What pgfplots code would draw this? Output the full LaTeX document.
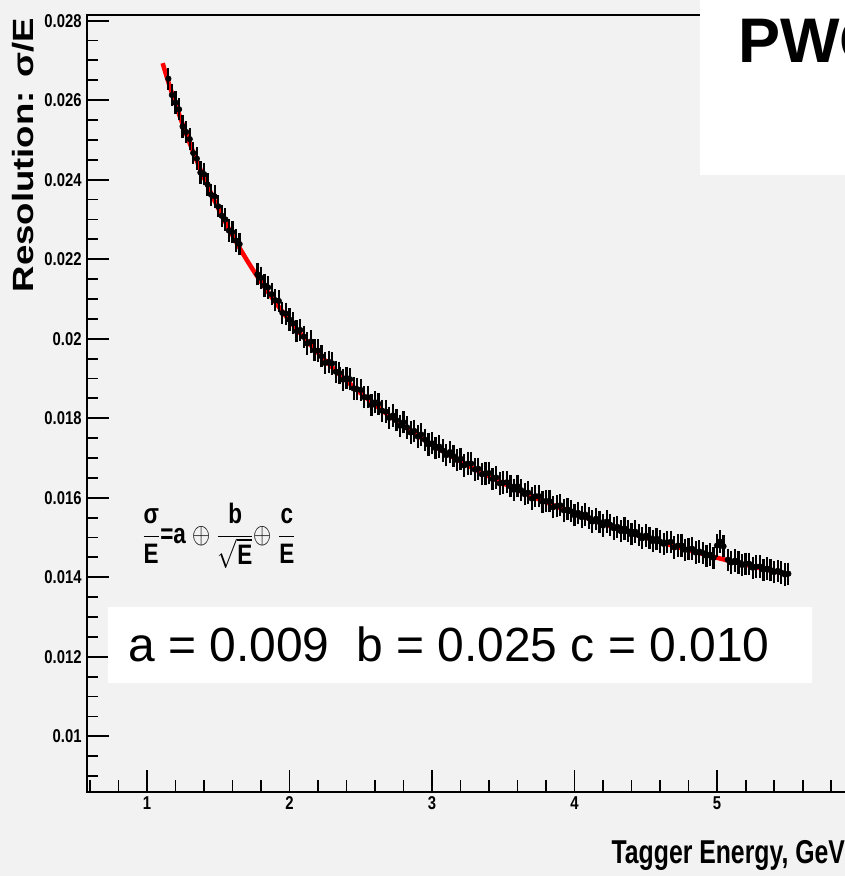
\documentclass[border=0pt]{standalone}
\usepackage{fontspec}
\setmainfont{Liberation Sans}
\usepackage{graphicx}
\usepackage{pgfplots}
\pgfplotsset{compat=1.18}
\usepackage{pgfplotstable}
\definecolor{bg}{RGB}{242,242,242}

\pgfplotstableread{
x y
1.150 0.02654
1.175 0.02613
1.200 0.02594
1.225 0.02577
1.250 0.02534
1.275 0.02520
1.300 0.02502
1.325 0.02467
1.350 0.02453
1.375 0.02418
1.400 0.02414
1.425 0.02388
1.450 0.02362
1.475 0.02358
1.500 0.02333
1.525 0.02309
1.550 0.02300
1.575 0.02272
1.600 0.02268
1.625 0.02247
1.650 0.02238
1.775 0.02162
1.800 0.02153
1.825 0.02134
1.850 0.02129
1.875 0.02112
1.900 0.02097
1.925 0.02095
1.950 0.02065
1.975 0.02063
2.000 0.02048
2.025 0.02039
2.050 0.02019
2.075 0.02022
2.100 0.02005
2.125 0.01988
2.150 0.01993
2.175 0.01971
2.200 0.01970
2.225 0.01956
2.250 0.01939
2.275 0.01942
2.300 0.01938
2.325 0.01917
2.350 0.01914
2.375 0.01897
2.400 0.01901
2.425 0.01898
2.450 0.01875
2.475 0.01873
2.500 0.01871
2.525 0.01853
2.550 0.01853
2.575 0.01833
2.600 0.01840
2.625 0.01836
2.650 0.01819
2.675 0.01817
2.700 0.01801
2.725 0.01807
2.750 0.01795
2.775 0.01781
2.800 0.01790
2.825 0.01777
2.850 0.01764
2.875 0.01768
2.900 0.01754
2.925 0.01759
2.950 0.01746
2.975 0.01734
3.000 0.01737
3.025 0.01725
3.050 0.01729
3.075 0.01719
3.100 0.01707
3.125 0.01715
3.150 0.01705
3.175 0.01695
3.200 0.01698
3.225 0.01681
3.250 0.01686
3.275 0.01686
3.300 0.01671
3.325 0.01673
3.350 0.01659
3.375 0.01661
3.400 0.01662
3.425 0.01647
3.450 0.01651
3.475 0.01636
3.500 0.01638
3.525 0.01639
3.550 0.01629
3.575 0.01620
3.600 0.01629
3.625 0.01619
3.650 0.01609
3.675 0.01613
3.700 0.01598
3.725 0.01604
3.750 0.01604
3.775 0.01590
3.800 0.01592
3.825 0.01591
3.850 0.01576
3.875 0.01579
3.900 0.01581
3.925 0.01568
3.950 0.01571
3.975 0.01566
4.000 0.01556
4.025 0.01562
4.050 0.01551
4.075 0.01558
4.100 0.01549
4.125 0.01540
4.150 0.01547
4.175 0.01539
4.200 0.01530
4.225 0.01540
4.250 0.01532
4.275 0.01523
4.300 0.01527
4.325 0.01516
4.350 0.01523
4.375 0.01516
4.400 0.01508
4.425 0.01515
4.450 0.01506
4.475 0.01498
4.500 0.01505
4.525 0.01499
4.550 0.01491
4.575 0.01497
4.600 0.01490
4.625 0.01484
4.650 0.01488
4.675 0.01489
4.700 0.01475
4.725 0.01480
4.750 0.01480
4.775 0.01469
4.800 0.01471
4.825 0.01472
4.850 0.01462
4.875 0.01465
4.900 0.01461
4.925 0.01454
4.950 0.01457
4.975 0.01449
5.000 0.01480
5.020 0.01490
5.045 0.01478
5.075 0.01444
5.100 0.01437
5.125 0.01442
5.150 0.01437
5.175 0.01431
5.200 0.01434
5.225 0.01434
5.250 0.01424
5.275 0.01427
5.300 0.01427
5.325 0.01419
5.350 0.01422
5.375 0.01418
5.400 0.01413
5.425 0.01416
5.450 0.01412
5.475 0.01407
5.500 0.01409
}\measured

\pgfplotstableread{
x y
1.11 0.026930
1.15 0.026459
1.20 0.025909
1.25 0.025397
1.30 0.024919
1.35 0.024471
1.40 0.024051
1.45 0.023656
1.50 0.023283
1.55 0.022932
1.60 0.022598
1.65 0.022283
1.70 0.021983
1.75 0.021698
1.80 0.021426
1.85 0.021168
1.90 0.020920
1.95 0.020684
2.00 0.020457
2.10 0.020032
2.20 0.019641
2.30 0.019278
2.40 0.018942
2.50 0.018628
2.60 0.018335
2.70 0.018061
2.80 0.017804
2.90 0.017562
3.00 0.017334
3.10 0.017118
3.20 0.016914
3.30 0.016721
3.40 0.016537
3.50 0.016363
3.60 0.016197
3.70 0.016038
3.80 0.015887
3.90 0.015743
4.00 0.015605
4.10 0.015472
4.20 0.015346
4.30 0.015224
4.40 0.015107
4.50 0.014995
4.60 0.014886
4.70 0.014782
4.80 0.014682
4.90 0.014585
5.00 0.014491
5.10 0.014401
5.20 0.014314
5.30 0.014230
5.40 0.014148
5.50 0.014070
}\fitcurve

\begin{document}
\begin{tikzpicture}[x=0.025cm,y=0.025cm]
\path[use as bounding box, fill=bg] (0,0) rectangle (845,876);
\begin{axis}[
  at={(2.1625cm,2.1cm)}, anchor=south west, scale only axis,
  width=19.3225cm, height=19.4075cm,
  xmin=0.576, xmax=6.0, ymin=0.0086, ymax=0.02813,
  axis background/.style={fill=bg},
  axis line style={line width=1.4pt, black},
  xtick={1,2,3,4,5},
  minor xtick={0.6,0.8,1.2,1.4,1.6,1.8,2.2,2.4,2.6,2.8,3.2,3.4,3.6,3.8,4.2,4.4,4.6,4.8,5.2,5.4,5.6,5.8},
  ytick={0.01,0.012,0.014,0.016,0.018,0.02,0.022,0.024,0.026,0.028},
  minor ytick={0.009,0.0095,0.0105,0.011,0.0115,0.0125,0.013,0.0135,0.0145,0.015,0.0155,0.0165,0.017,0.0175,0.0185,0.019,0.0195,0.0205,0.021,0.0215,0.0225,0.023,0.0235,0.0245,0.025,0.0255,0.0265,0.027,0.0275},
  xtick pos=bottom, ytick pos=left,
  tick align=inside,
  major tick length=0.55cm, minor tick length=0.29cm,
  every tick/.style={line width=1.3pt, black},
  scaled y ticks=false,
  /pgf/number format/assume math mode=true,
  /pgf/number format/fixed,
  /pgf/number format/precision=3,
  tick label style={font=\fontsize{13.2}{14}\selectfont\bfseries},
  xticklabel={\scalebox{0.8}[1]{\pgfmathprintnumber{\tick}}},
  yticklabel={\scalebox{0.8}[1]{\pgfmathprintnumber{\tick}}},
  xlabel={\scalebox{0.75}[1]{Tagger Energy, GeV}},
  xlabel style={at={(axis description cs:0.9813,-0.0915)}, anchor=base east, inner sep=0pt, font=\fontsize{23.5}{26}\selectfont\bfseries},
  ylabel={\scalebox{1}[0.8]{Resolution: σ/E}},
  ylabel style={at={(axis description cs:-0.0822,0.997)}, anchor=east, inner sep=0pt, font=\fontsize{26}{28}\selectfont\bfseries},
]
\addplot[red, line width=3.2pt, smooth, no markers] table[x=x,y=y] {\fitcurve};
\addplot[black, only marks, mark=none,
  error bars/.cd, y dir=both, y fixed=0.00016,
  error bar style={line width=1.6pt, black},
  error mark options={line width=1.6pt, mark size=0.12cm, black}]
  table[x=x,y=y] {\measured};
\end{axis}
\fill[white] (700,701) rectangle (845,876);
\node[anchor=base west, inner sep=0pt, font=\fontsize{44.8}{50}\selectfont\bfseries] at (738,813) {PWO};
\fill[white] (108,193) rectangle (812,269);
\node[anchor=base west, inner sep=0pt, font=\fontsize{34.1}{40}\selectfont] at (128,214) {a = 0.009\ \ b = 0.025 c = 0.010};
\node[inner sep=0pt, font=\fontsize{20}{24}\selectfont\bfseries] at (219,340) {\scalebox{0.8}[1]{$\displaystyle\frac{\mbox{σ}}{\mbox{E}}$=a $\oplus$ $\displaystyle\frac{\mbox{b}}{\sqrt{\mbox{E}}}$$\oplus$ $\displaystyle\frac{\mbox{c}}{\mbox{E}}$}};
\end{tikzpicture}
\end{document}
